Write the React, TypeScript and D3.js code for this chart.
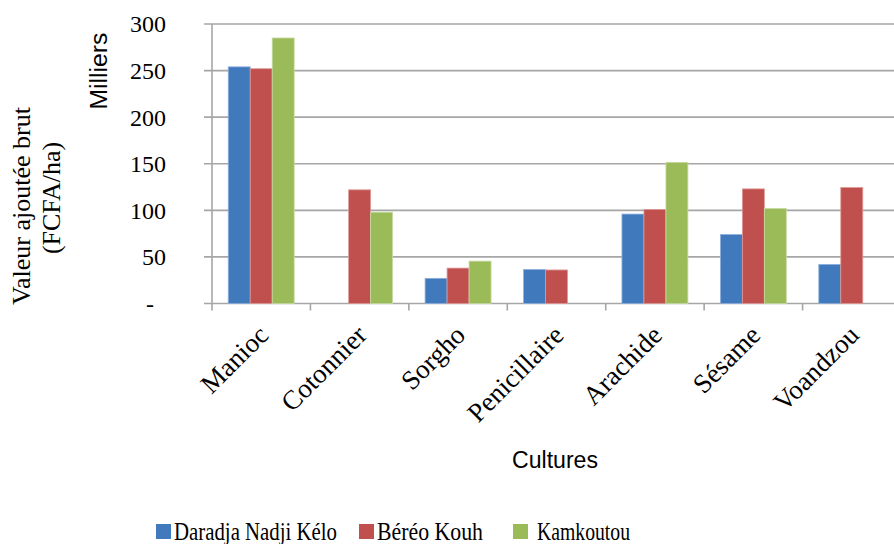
import React from "react";
import * as d3 from "d3";

const categories = ["Manioc", "Cotonnier", "Sorgho", "Penicillaire", "Arachide", "Sésame", "Voandzou"];
const seriesNames = ["Daradja Nadji Kélo", "Béréo Kouh", "Kamkoutou"];
const daradja = [254, 0, 27, 36.5, 96, 74, 42];
const bereo = [252, 122, 38, 36, 101, 123, 124.5];
const kamkoutou = [285, 98, 45.5, 0, 151.5, 102, 0];
const yTicks = [0, 50, 100, 150, 200, 250, 300];
const colors = ["#4179BD", "#C0504D", "#9BBB59"];
const borders = ["#8FB0DC", "#DE9896", "#C8DBA4"];

const W = 894, H = 544;
const plot = { left: 212, right: 901, top: 24, bottom: 303.5 };

export default function App() {
  const seriesValues = [daradja, bereo, kamkoutou];
  const x0 = d3.scaleBand<string>().domain(categories).range([plot.left, plot.right]).paddingInner(0).paddingOuter(0);
  const bw = x0.bandwidth();
  const x1 = d3.scaleBand<string>().domain(seriesNames).range([bw * 0.165, bw * 0.835]).padding(0);
  const y = d3.scaleLinear().domain([0, 300]).range([plot.bottom, plot.top]);
  const serifStyle = { fontFamily: "Liberation Serif, Times New Roman, DejaVu Serif, serif" };
  const sansStyle = { fontFamily: "Liberation Sans, Arial, DejaVu Sans, sans-serif" };
  const gridColor = "#A6A6A6";

  const legendItems = [
    { sq: 156, tx: 174, tl: 163 },
    { sq: 359, tx: 377, tl: 106 },
    { sq: 513, tx: 537, tl: 93 },
  ];

  return (
    <svg width={W} height={H} style={{ position: "absolute", left: 0, top: 0, background: "#fff" }}>
      <rect x={0} y={0} width={W} height={H} fill="#fff" />
      {yTicks.map((t) => (
        <line key={"g" + t} x1={plot.left - 8} x2={plot.right} y1={y(t)} y2={y(t)} stroke={gridColor} strokeWidth={1.6} />
      ))}
      <line x1={plot.left} x2={plot.left} y1={plot.top} y2={plot.bottom} stroke={gridColor} strokeWidth={1.6} />
      {categories.map((c) => (
        <line key={"ct" + c} x1={x0(c)!} x2={x0(c)!} y1={plot.bottom} y2={plot.bottom + 7} stroke={gridColor} strokeWidth={1.6} />
      ))}
      <line x1={plot.right} x2={plot.right} y1={plot.bottom} y2={plot.bottom + 7} stroke={gridColor} strokeWidth={1.6} />
      {seriesValues.map((vals, si) =>
        vals.map((v, ci) =>
          v > 0 ? (
            <rect
              key={si + "-" + ci}
              x={x0(categories[ci])! + x1(seriesNames[si])!}
              y={y(v)}
              width={x1.bandwidth()}
              height={y(0) - y(v)}
              fill={colors[si]}
              stroke={borders[si]}
              strokeWidth={0.8}
            />
          ) : null
        )
      )}
      {yTicks.map((t) => (
        <text
          key={"yt" + t}
          x={t === 0 ? 154 : 166}
          y={y(t)}
          dy="0.35em"
          textAnchor="end"
          style={serifStyle}
          fontSize={24}
          fill="#000"
        >
          {t === 0 ? "-" : d3.format("d")(t)}
        </text>
      ))}
      {categories.map((c) => {
        const cx = x0(c)! + bw / 2 + 3;
        const cy = 331;
        return (
          <text
            key={"cl" + c}
            transform={`translate(${cx},${cy}) rotate(-45)`}
            textAnchor="end"
            style={serifStyle}
            fontSize={27}
            dy="0.3em"
            fill="#000"
          >
            {c}
          </text>
        );
      })}
      <text
        transform={`translate(107,71) rotate(-90)`}
        textAnchor="middle"
        style={sansStyle}
        fontSize={23}
        textLength={77}
        lengthAdjust="spacingAndGlyphs"
        fill="#000"
      >
        Milliers
      </text>
      <text transform={`translate(30,206) rotate(-90)`} textAnchor="middle" style={serifStyle} fontSize={26} fill="#000">
        Valeur ajoutée brut
      </text>
      <text transform={`translate(60,198) rotate(-90)`} textAnchor="middle" style={serifStyle} fontSize={26} fill="#000">
        (FCFA/ha)
      </text>
      <text x={555} y={468} textAnchor="middle" style={sansStyle} fontSize={23} textLength={86} lengthAdjust="spacingAndGlyphs" fill="#000">
        Cultures
      </text>
      {seriesNames.map((s, i) => (
        <g key={"lg" + s}>
          <rect x={legendItems[i].sq} y={524} width={15} height={15} fill={colors[i]} />
          <text
            x={legendItems[i].tx}
            y={540}
            style={serifStyle}
            fontSize={25}
            textLength={legendItems[i].tl}
            lengthAdjust="spacingAndGlyphs"
            fill="#000"
          >
            {s}
          </text>
        </g>
      ))}
    </svg>
  );
}
